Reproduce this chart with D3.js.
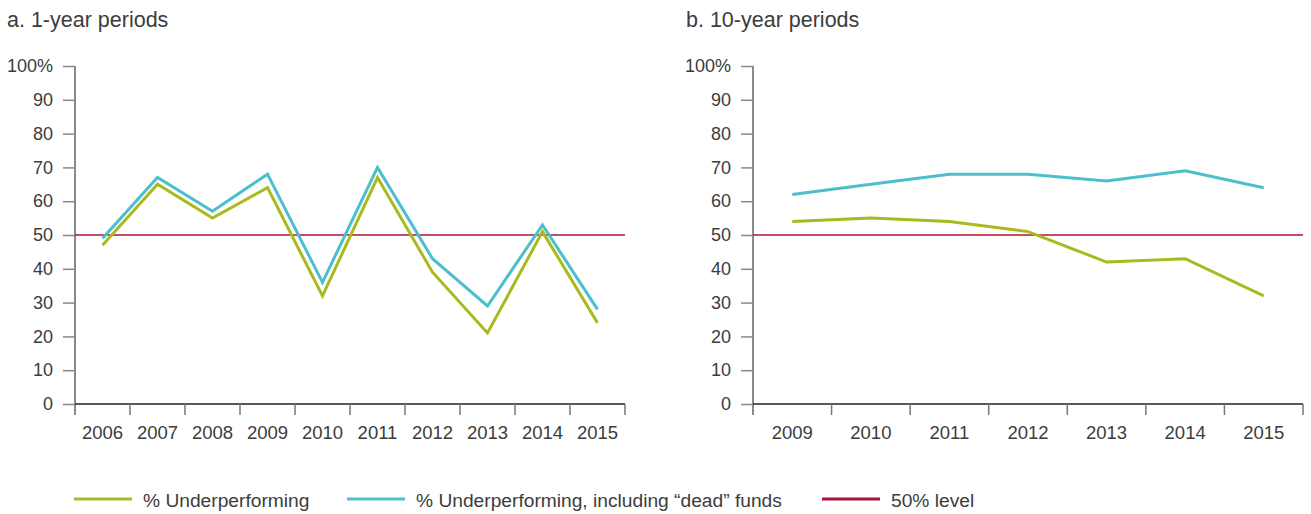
<!DOCTYPE html>
<html>
<head>
<meta charset="utf-8">
<script src="https://cdn.jsdelivr.net/npm/d3@7"></script>
<style>
  html, body { margin: 0; padding: 0; background: #fff; }
  svg { display: block; font-family: "Liberation Sans", Arial, sans-serif; }
  text { fill: #3c3c3c; }
</style>
</head>
<body>
<svg id="chart" width="1311" height="514"></svg>
<script>
// Panel a: 1-year periods
const yearsA = ["2006","2007","2008","2009","2010","2011","2012","2013","2014","2015"];
const underA = [47, 65, 55, 64, 32, 67, 39, 21, 51, 24];
const deadA  = [49, 67, 57, 68, 36, 70, 43, 29, 53, 28];

// Panel b: 10-year periods
const yearsB = ["2009","2010","2011","2012","2013","2014","2015"];
const underB = [54, 55, 54, 51, 42, 43, 32];
const deadB  = [62, 65, 68, 68, 66, 69, 64];

const yTicks = [0, 10, 20, 30, 40, 50, 60, 70, 80, 90, 100];
const refLevel = 50;

const seriesNames = ["% Underperforming", "% Underperforming, including \u201cdead\u201d funds", "50% level"];
const colGreen = "#a9ba1e";
const colBlue = "#4cbfcc";
const colRed = "#b0113a";

const svg = d3.select("#chart");

function panel(opts) {
  const { left, right, top, bottom, years, under, dead, title, titleX } = opts;
  const g = svg.append("g");

  const x = d3.scaleBand().domain(years).range([left, right]);
  const y = d3.scaleLinear().domain([0, 100]).range([bottom, top]);

  g.append("text")
    .attr("x", titleX).attr("y", 27)
    .style("font-size", "21.5px")
    .text(title);

  // y axis (grey)
  const yAxis = g.append("g")
    .attr("transform", `translate(${left},0)`)
    .call(d3.axisLeft(y).tickValues(yTicks).tickSize(12).tickPadding(10)
      .tickFormat(d => d === 100 ? "100%" : d));
  yAxis.select(".domain").attr("stroke", "#8a8a8a").attr("stroke-width", 2)
    .attr("d", `M0,${top}V${bottom + 11}`);
  yAxis.selectAll(".tick line").attr("stroke", "#8a8a8a").attr("stroke-width", 1.5);
  yAxis.selectAll(".tick text").style("font-size", "18px").attr("fill", "#3c3c3c");

  // x axis
  const xAxis = g.append("g")
    .attr("transform", `translate(0,${bottom})`)
    .call(d3.axisBottom(x).tickSize(0).tickPadding(22));
  xAxis.select(".domain").attr("stroke", "#222").attr("stroke-width", 1.5)
    .attr("d", `M${left},0H${right}`);
  xAxis.selectAll(".tick text").style("font-size", "18.5px").attr("fill", "#3c3c3c");

  // band-boundary ticks
  const bounds = years.map(d => x(d)).concat([right]).slice(1);
  g.selectAll(null).data(bounds).enter().append("line")
    .attr("x1", d => d).attr("x2", d => d)
    .attr("y1", bottom).attr("y2", bottom + 11)
    .attr("stroke", "#777").attr("stroke-width", 1.5);

  // 50% reference line
  g.append("line")
    .attr("x1", left).attr("x2", right)
    .attr("y1", y(refLevel)).attr("y2", y(refLevel))
    .attr("stroke", colRed).attr("stroke-width", 1.3);

  const line = d3.line()
    .x((d, i) => x(years[i]) + x.bandwidth() / 2)
    .y(d => y(d));

  g.append("path").datum(dead).attr("d", line)
    .attr("fill", "none").attr("stroke", colBlue).attr("stroke-width", 3)
    .attr("stroke-linejoin", "miter");
  g.append("path").datum(under).attr("d", line)
    .attr("fill", "none").attr("stroke", colGreen).attr("stroke-width", 3)
    .attr("stroke-linejoin", "miter");
}

panel({ left: 75, right: 625, top: 66, bottom: 404, years: yearsA, under: underA, dead: deadA,
        title: "a. 1-year periods", titleX: 7 });
panel({ left: 753, right: 1303, top: 66, bottom: 404, years: yearsB, under: underB, dead: deadB,
        title: "b. 10-year periods", titleX: 686 });

// Legend
const legend = svg.append("g");
const legendItems = [
  { name: seriesNames[0], color: colGreen, x: 74 },
  { name: seriesNames[1], color: colBlue, x: 347 },
  { name: seriesNames[2], color: colRed, x: 822 }
];
legendItems.forEach(it => {
  legend.append("line")
    .attr("x1", it.x).attr("x2", it.x + 58)
    .attr("y1", 499).attr("y2", 499)
    .attr("stroke", it.color).attr("stroke-width", 3);
  legend.append("text")
    .attr("x", it.x + 69).attr("y", 507)
    .style("font-size", "19.2px")
    .text(it.name);
});
</script>
</body>
</html>
